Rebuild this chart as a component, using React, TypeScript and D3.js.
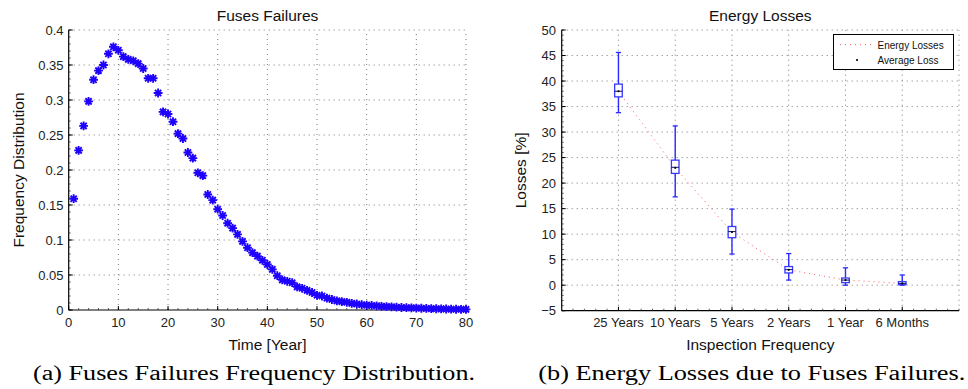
import React from 'react';
import * as d3 from 'd3';

// ---------- Data: left chart ----------
const freq = [
  0.159, 0.228, 0.263, 0.298, 0.329, 0.342, 0.350, 0.366, 0.376, 0.371,
  0.362, 0.358, 0.356, 0.352, 0.345, 0.331, 0.331, 0.310, 0.283, 0.280,
  0.269, 0.252, 0.245, 0.225, 0.217, 0.196, 0.192, 0.165, 0.157, 0.144,
  0.135, 0.124, 0.117, 0.108, 0.098, 0.089, 0.082, 0.077, 0.071, 0.065,
  0.058, 0.049, 0.043, 0.041, 0.039, 0.033, 0.031, 0.028, 0.025, 0.021,
  0.020, 0.017, 0.015, 0.013, 0.012, 0.011, 0.0095, 0.0086, 0.0076, 0.007,
  0.0065, 0.006, 0.0052, 0.0048, 0.0046, 0.004, 0.0036, 0.0033, 0.003, 0.0028,
  0.0025, 0.0022, 0.002, 0.0018, 0.0016, 0.0014, 0.0012, 0.0011, 0.001, 0.0009,
];
const leftXTicks = [0, 10, 20, 30, 40, 50, 60, 70, 80];
const leftYTicks = [0, 0.05, 0.1, 0.15, 0.2, 0.25, 0.3, 0.35, 0.4];
const leftYTickLabels = ['0', '0.05', '0.1', '0.15', '0.2', '0.25', '0.3', '0.35', '0.4'];

// ---------- Data: right chart ----------
const categories = ['25 Years', '10 Years', '5 Years', '2 Years', '1 Year', '6 Months'];
const whiskerLow = [33.8, 17.3, 6.1, 1.0, 0.0, 0.0];
const q1 = [36.9, 21.9, 9.3, 2.4, 0.5, 0.1];
const median = [38.0, 23.1, 10.5, 3.05, 1.0, 0.35];
const q3 = [39.4, 24.5, 11.5, 3.65, 1.4, 0.7];
const whiskerHigh = [45.6, 31.2, 14.9, 6.2, 3.4, 2.0];
const meanLoss = [38.0, 23.0, 10.4, 3.0, 1.0, 0.35];
const rightYTicks = [-5, 0, 5, 10, 15, 20, 25, 30, 35, 40, 45, 50];

const SANS = "'Liberation Sans', Arial, Helvetica, sans-serif";
const SERIF = "'Liberation Serif', 'Times New Roman', serif";
const GRID = { stroke: '#7a7a7a', strokeWidth: 1, strokeDasharray: '1 4' };

function Asterisk({ cx, cy }: { cx: number; cy: number }) {
  const r = 4.4;
  const d = r * 0.7071;
  return (
    <path
      d={`M${cx - r},${cy}L${cx + r},${cy}M${cx},${cy - r}L${cx},${cy + r}M${cx - d},${cy - d}L${cx + d},${cy + d}M${cx - d},${cy + d}L${cx + d},${cy - d}`}
      stroke="#1e00ff"
      strokeWidth={1.9}
      fill="none"
    />
  );
}

export default function App() {
  const lx = d3.scaleLinear().domain([0, 80]).range([68.7, 466]);
  const ly = d3.scaleLinear().domain([0, 0.4]).range([310, 30]);
  const rx = d3.scaleLinear().domain([0, 7]).range([561.7, 959]);
  const ry = d3.scaleLinear().domain([-5, 50]).range([310.7, 30]);

  const lineGen = d3
    .line<number>()
    .x((_, i) => rx(i + 1))
    .y((d) => ry(d));

  const leftMinorY = d3.range(0, 0.4001, 0.01);
  const leftMinorX = d3.range(0, 80.01, 2);
  const rightMinorY = d3.range(-5, 50.01, 1);
  const rightMinorX = d3.range(0, 7.001, 0.2);

  const boxHW = 3.8;
  const capHW = 2.6;

  return (
    <svg
      width={968}
      height={389}
      style={{ position: 'absolute', left: 0, top: 0, background: '#fff', fontFamily: SANS }}
    >
      <rect x={0} y={0} width={968} height={389} fill="#fff" />

      {/* ================= LEFT CHART ================= */}
      <g>
        {leftXTicks.filter((t) => t > 0).map((t) => (
          <line key={'lgx' + t} x1={lx(t)} x2={lx(t)} y1={ly(0)} y2={ly(0.4)} {...GRID} />
        ))}
        {leftYTicks.filter((t) => t > 0).map((t) => (
          <line key={'lgy' + t} x1={lx(0)} x2={lx(80)} y1={ly(t)} y2={ly(t)} {...GRID} />
        ))}
        <line x1={lx(0)} x2={lx(0)} y1={ly(0)} y2={ly(0.4)} stroke="#000" strokeWidth={1.2} />
        <line x1={lx(0)} x2={lx(80)} y1={ly(0)} y2={ly(0)} stroke="#000" strokeWidth={1.2} />
        {leftMinorY.map((t, i) => (
          <line key={'lmy' + i} x1={lx(0)} x2={lx(0) + 2} y1={ly(t)} y2={ly(t)} stroke="#333" strokeWidth={0.8} />
        ))}
        {leftMinorX.map((t, i) => (
          <line key={'lmx' + i} x1={lx(t)} x2={lx(t)} y1={ly(0)} y2={ly(0) - 2} stroke="#333" strokeWidth={0.8} />
        ))}
        {leftYTicks.map((t) => (
          <line key={'lty' + t} x1={lx(0)} x2={lx(0) + 4} y1={ly(t)} y2={ly(t)} stroke="#000" />
        ))}
        {leftXTicks.map((t) => (
          <line key={'ltx' + t} x1={lx(t)} x2={lx(t)} y1={ly(0)} y2={ly(0) - 4} stroke="#000" />
        ))}
        {leftYTicks.map((t, i) => (
          <text key={'lyl' + t} x={63.5} y={ly(t) + 4.6} fontSize={13} textAnchor="end" fill="#222" style={{ fontFamily: SANS }}>
            {leftYTickLabels[i]}
          </text>
        ))}
        {leftXTicks.map((t) => (
          <text key={'lxl' + t} x={lx(t)} y={327} fontSize={13} textAnchor="middle" fill="#222" style={{ fontFamily: SANS }}>
            {t}
          </text>
        ))}
        {freq.map((v, i) => (
          <Asterisk key={'pt' + i} cx={lx(i + 1)} cy={ly(v)} />
        ))}
        <text x={267.5} y={20.5} fontSize={15.5} textAnchor="middle" fill="#111" style={{ fontFamily: SANS }}>
          Fuses Failures
        </text>
        <text x={267.5} y={349.5} fontSize={15.5} textAnchor="middle" fill="#111" style={{ fontFamily: SANS }}>
          Time [Year]
        </text>
        <text
          transform={`translate(23.5,${(ly(0) + ly(0.4)) / 2}) rotate(-90)`}
          fontSize={15.5}
          textAnchor="middle"
          fill="#111"
          style={{ fontFamily: SANS }}
        >
          Frequency Distribution
        </text>
      </g>

      {/* ================= RIGHT CHART ================= */}
      <g>
        {categories.map((_, i) => (
          <line key={'rgx' + i} x1={rx(i + 1)} x2={rx(i + 1)} y1={ry(-5)} y2={ry(50)} {...GRID} />
        ))}
        <line x1={rx(7)} x2={rx(7)} y1={ry(-5)} y2={ry(50)} {...GRID} />
        {rightYTicks.filter((t) => t > -5).map((t) => (
          <line key={'rgy' + t} x1={rx(0)} x2={rx(7)} y1={ry(t)} y2={ry(t)} {...GRID} />
        ))}
        <line x1={rx(0)} x2={rx(0)} y1={ry(-5)} y2={ry(50)} stroke="#000" strokeWidth={1.2} />
        <line x1={rx(0)} x2={rx(7)} y1={ry(-5)} y2={ry(-5)} stroke="#000" strokeWidth={1.2} />
        {rightMinorY.map((t, i) => (
          <line key={'rmy' + i} x1={rx(0)} x2={rx(0) + 2} y1={ry(t)} y2={ry(t)} stroke="#333" strokeWidth={0.8} />
        ))}
        {rightMinorX.map((t, i) => (
          <line key={'rmx' + i} x1={rx(t)} x2={rx(t)} y1={ry(-5)} y2={ry(-5) - 2} stroke="#333" strokeWidth={0.8} />
        ))}
        {rightYTicks.map((t) => (
          <line key={'rty' + t} x1={rx(0)} x2={rx(0) + 4} y1={ry(t)} y2={ry(t)} stroke="#000" />
        ))}
        {categories.map((_, i) => (
          <line key={'rtx' + i} x1={rx(i + 1)} x2={rx(i + 1)} y1={ry(-5)} y2={ry(-5) - 4} stroke="#000" />
        ))}
        {rightYTicks.map((t) => (
          <text key={'ryl' + t} x={556} y={ry(t) + 4.6} fontSize={13} textAnchor="end" fill="#222" style={{ fontFamily: SANS }}>
            {t < 0 ? '\u2212' + Math.abs(t) : t}
          </text>
        ))}
        {categories.map((c, i) => (
          <text key={'rxl' + i} x={rx(i + 1)} y={327} fontSize={13} textAnchor="middle" fill="#222" style={{ fontFamily: SANS }}>
            {c}
          </text>
        ))}

        <path d={lineGen(meanLoss) || ''} fill="none" stroke="#ff5a5a" strokeWidth={1} strokeDasharray="1 4" />

        {categories.map((_, i) => {
          const cx = rx(i + 1);
          return (
            <g key={'box' + i}>
              <line x1={cx} x2={cx} y1={ry(whiskerHigh[i])} y2={ry(q3[i])} stroke="#2a2aff" strokeWidth={1.4} />
              <line x1={cx} x2={cx} y1={ry(q1[i])} y2={ry(whiskerLow[i])} stroke="#2a2aff" strokeWidth={1.4} />
              <line x1={cx - capHW} x2={cx + capHW} y1={ry(whiskerHigh[i])} y2={ry(whiskerHigh[i])} stroke="#2a2aff" strokeWidth={1.3} />
              <line x1={cx - capHW} x2={cx + capHW} y1={ry(whiskerLow[i])} y2={ry(whiskerLow[i])} stroke="#2a2aff" strokeWidth={1.3} />
              <rect
                x={cx - boxHW}
                y={ry(q3[i])}
                width={boxHW * 2}
                height={Math.max(ry(q1[i]) - ry(q3[i]), 1)}
                fill="#fff"
                stroke="#3838ff"
                strokeWidth={1.3}
              />
              <line x1={cx - boxHW} x2={cx + boxHW} y1={ry(median[i])} y2={ry(median[i])} stroke="#14146e" strokeWidth={1} />
              <circle cx={cx} cy={ry(meanLoss[i])} r={1.1} fill="#000" />
            </g>
          );
        })}

        <rect x={833.5} y={34.5} width={120} height={35} fill="#fff" stroke="#000" strokeWidth={1} />
        <line x1={840} x2={871} y1={44.7} y2={44.7} stroke="#ff5a5a" strokeWidth={1} strokeDasharray="1 4" />
        <text x={877.5} y={48.5} fontSize={10} fill="#111" style={{ fontFamily: SANS }}>Energy Losses</text>
        <circle cx={857} cy={60} r={1.1} fill="#000" />
        <text x={877.5} y={63.8} fontSize={10} fill="#111" style={{ fontFamily: SANS }}>Average Loss</text>

        <text x={760.3} y={20.5} fontSize={15.5} textAnchor="middle" fill="#111" style={{ fontFamily: SANS }}>
          Energy Losses
        </text>
        <text x={760.3} y={349.5} fontSize={15.5} textAnchor="middle" fill="#111" style={{ fontFamily: SANS }}>
          Inspection Frequency
        </text>
        <text
          transform={`translate(526,${(ry(-5) + ry(50)) / 2}) rotate(-90)`}
          fontSize={15.5}
          textAnchor="middle"
          fill="#111"
          style={{ fontFamily: SANS }}
        >
          Losses [%]
        </text>
      </g>

      <text x={33} y={379.5} fontSize={20} textLength={442} lengthAdjust="spacingAndGlyphs" fill="#000" style={{ fontFamily: SERIF }}>
        (a) Fuses Failures Frequency Distribution.
      </text>
      <text x={538.3} y={379.5} fontSize={20} textLength={427} lengthAdjust="spacingAndGlyphs" fill="#000" style={{ fontFamily: SERIF }}>
        (b) Energy Losses due to Fuses Failures.
      </text>
    </svg>
  );
}
